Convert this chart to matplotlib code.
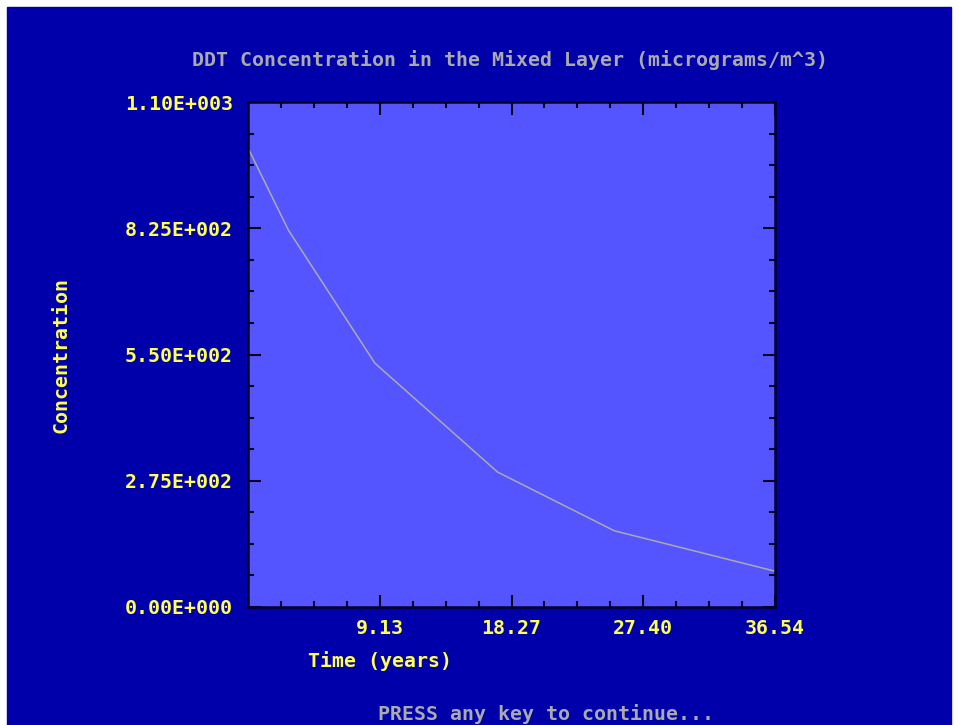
import matplotlib
matplotlib.use("Agg")
import matplotlib.pyplot as plt
from matplotlib.ticker import FixedLocator, MultipleLocator
from matplotlib.patches import Rectangle

# values
years = [0.0, 2.8, 8.8, 17.3, 25.4, 36.54]
conc = [1000, 821, 531, 294, 166, 78]
x_ticks = [9.135, 18.27, 27.405, 36.54]
x_labels = ["9.13", "18.27", "27.40", "36.54"]
y_ticks = [0, 275, 550, 825, 1100]
y_labels = ["0.00E+000", "2.75E+002", "5.50E+002", "8.25E+002", "1.10E+003"]

dark = "#0000AA"
light = "#5555FF"
yellow = "#FFFF55"
grey = "#AAAAAA"
mono = "DejaVu Sans Mono"
fs = 14.3

fig = plt.figure(figsize=(9.59, 7.25), dpi=100)
fig.patch.set_facecolor("white")
# screen area (thin white margin on top/left/right)
fig.patches.append(Rectangle((7 / 959, 0), 944 / 959, 718 / 725,
                             transform=fig.transFigure, color=dark, zorder=-5))

ax = fig.add_axes([248 / 959, 118 / 725, 527 / 959, 505 / 725])
ax.set_facecolor(light)
ax.plot(years, conc, color=grey, lw=1.1)

ax.set_xlim(0, 36.54)
ax.set_ylim(0, 1100)
ax.xaxis.set_major_locator(FixedLocator(x_ticks))
ax.xaxis.set_minor_locator(MultipleLocator(36.54 / 16))
ax.yaxis.set_major_locator(FixedLocator(y_ticks))
ax.yaxis.set_minor_locator(MultipleLocator(275 / 4))
ax.set_xticklabels(x_labels)
ax.set_yticklabels(y_labels)

ax.tick_params(which="both", direction="in", top=True, right=True,
               color="#000022", width=1.5)
ax.tick_params(which="major", length=9)
ax.tick_params(which="minor", length=4.5)
ax.tick_params(axis="x", which="major", pad=9, labelcolor=yellow, labelsize=fs)
ax.tick_params(axis="y", which="major", pad=11, labelcolor=yellow, labelsize=fs)
for lab in ax.get_xticklabels() + ax.get_yticklabels():
    lab.set_family(mono)
    lab.set_weight("bold")
for sp in ax.spines.values():
    sp.set_color("#000022")
    sp.set_linewidth(1.8)

fig.text(510 / 959, 1 - 60 / 725, "DDT Concentration in the Mixed Layer (micrograms/m^3)",
         color=grey, family=mono, weight="bold", size=fs, ha="center", va="center")
fig.text(308 / 959, 1 - 661 / 725, "Time (years)", color=yellow, family=mono,
         weight="bold", size=fs, ha="left", va="center")
fig.text(61 / 959, 1 - 355 / 725, "Concentration", color=yellow, family=mono,
         weight="bold", size=fs, ha="center", va="center", rotation=90)
fig.text(546 / 959, 1 - 714 / 725, "PRESS any key to continue...", color=grey,
         family=mono, weight="bold", size=fs, ha="center", va="center")

fig.savefig("out.png", dpi=100, facecolor=fig.get_facecolor())
